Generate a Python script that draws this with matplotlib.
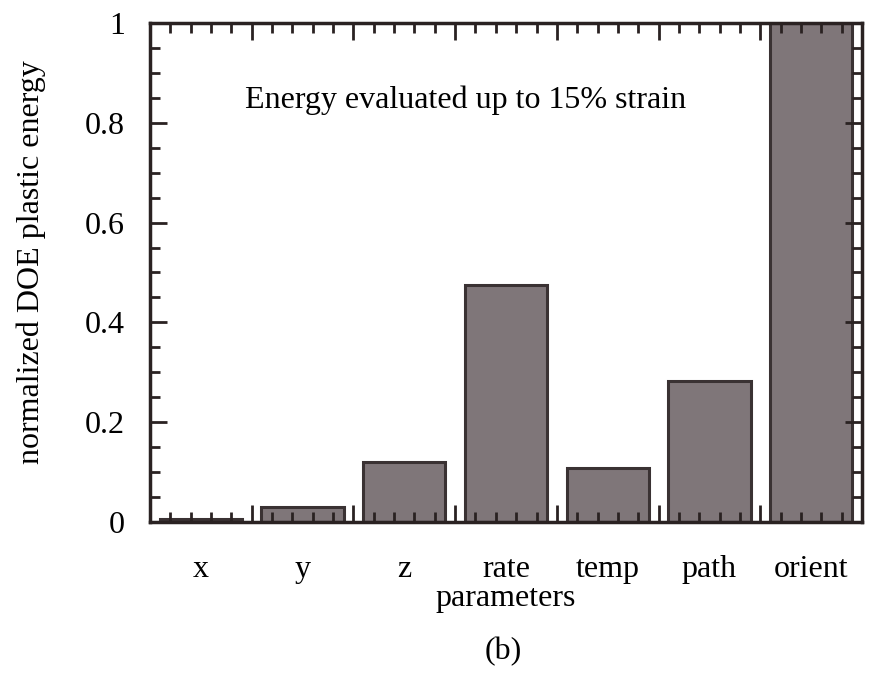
import matplotlib.pyplot as plt
import numpy as np

# values
params = ['x', 'y', 'z', 'rate', 'temp', 'path', 'orient']
energy = [0.005, 0.03, 0.12, 0.475, 0.108, 0.283, 1.0]

plt.rcParams['font.family'] = ['Liberation Serif', 'DejaVu Serif']
plt.rcParams['font.size'] = 23

fig = plt.figure(figsize=(8.74, 6.73), dpi=100)
ax = fig.add_axes([0.1716, 0.2244, 0.8147, 0.7414])

pos = np.arange(len(params))
ax.bar(pos, energy, width=0.81, color='#7f7679', edgecolor='#3a3233', linewidth=2.2)

ax.set_xlim(-0.5, len(params) - 0.5)
ax.set_ylim(0, 1)

# x ticks: long ones between bars, short ones every 0.2
ax.set_xticks(np.arange(-0.5, len(params), 1.0))
ax.set_xticks(np.arange(-0.5, len(params) - 0.5, 0.2), minor=True)
ax.set_xticklabels([])
ax.set_yticks([0, 0.2, 0.4, 0.6, 0.8, 1.0])
ax.set_yticklabels(['0', '0.2', '0.4', '0.6', '0.8', '1'])
ax.set_yticks(np.arange(0, 1.0, 0.05), minor=True)

ax.tick_params(which='both', direction='in', top=True, right=True, width=2, color='#2a2222')
ax.tick_params(which='major', length=12)
ax.tick_params(which='minor', length=7)
ax.tick_params(axis='y', pad=18)
for s in ax.spines.values():
    s.set_linewidth(2.5)
    s.set_color('#2a2222')

# category labels under the bars
sec = ax.secondary_xaxis('bottom')
sec.set_xticks(pos)
sec.set_xticklabels(params)
sec.tick_params(length=0, pad=24)
sec.spines['bottom'].set_visible(False)

ax.set_ylabel('normalized DOE plastic energy')
ax.yaxis.set_label_coords(-0.146, 0.52)
ax.text(2.6, 0.846, 'Energy evaluated up to 15% strain', ha='center', va='center')

fig.text(0.578, 0.111, 'parameters', ha='center', va='center')
fig.text(0.576, 0.032, '(b)', ha='center', va='center')

fig.savefig('out.png', dpi=100)
